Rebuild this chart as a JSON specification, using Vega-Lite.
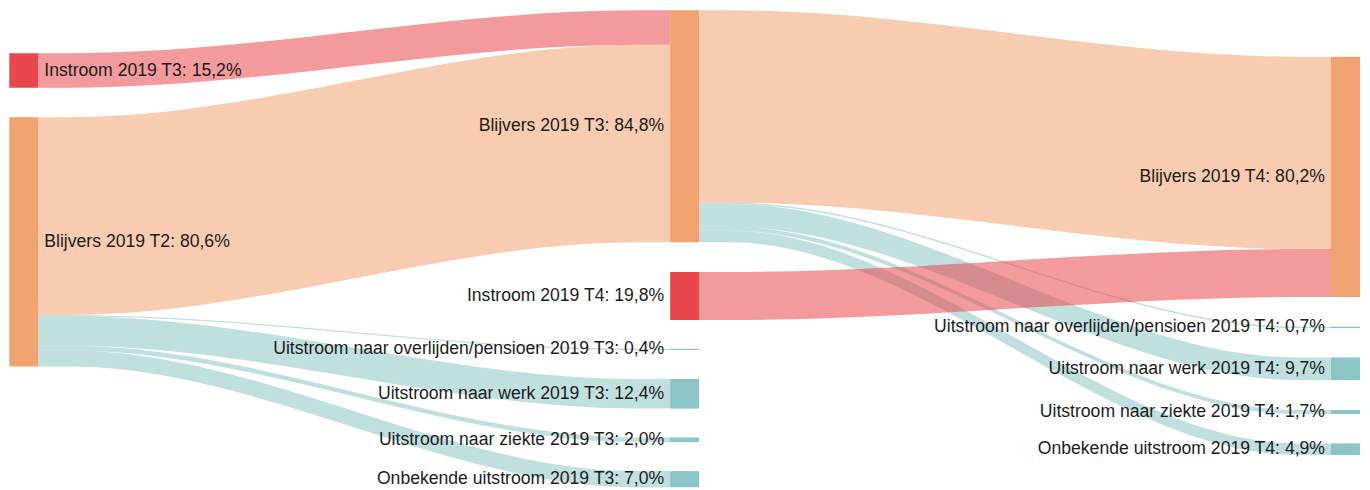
{
  "$schema": "https://vega.github.io/schema/vega-lite/v6.json",
  "width": 1370,
  "height": 490,
  "autosize": {"type": "fit", "contains": "padding"},
  "padding": 0,
  "background": "white",
  "config": {"view": {"stroke": null}},
  "datasets": {
    "nodes": [
      {"label": "Instroom 2019 T3: 15,2%", "stage": 0, "type": "instroom", "top": 53.3, "bot": 87.7},
      {"label": "Blijvers 2019 T2: 80,6%", "stage": 0, "type": "blijvers", "top": 117.3, "bot": 366.5},
      {"label": "Blijvers 2019 T3: 84,8%", "stage": 1, "type": "blijvers", "top": 10.3, "bot": 242.3},
      {"label": "Instroom 2019 T4: 19,8%", "stage": 1, "type": "instroom", "top": 272, "bot": 320},
      {"label": "Uitstroom naar overlijden/pensioen 2019 T3: 0,4%", "stage": 1, "type": "uitstroom", "top": 348.8, "bot": 350},
      {"label": "Uitstroom naar werk 2019 T3: 12,4%", "stage": 1, "type": "uitstroom", "top": 379, "bot": 408.6},
      {"label": "Uitstroom naar ziekte 2019 T3: 2,0%", "stage": 1, "type": "uitstroom", "top": 437.4, "bot": 442},
      {"label": "Onbekende uitstroom 2019 T3: 7,0%", "stage": 1, "type": "uitstroom", "top": 471.1, "bot": 487.3},
      {"label": "Blijvers 2019 T4: 80,2%", "stage": 2, "type": "blijvers", "top": 56.7, "bot": 297},
      {"label": "Uitstroom naar overlijden/pensioen 2019 T4: 0,7%", "stage": 2, "type": "uitstroom", "top": 326.6, "bot": 328.1},
      {"label": "Uitstroom naar werk 2019 T4: 9,7%", "stage": 2, "type": "uitstroom", "top": 357.4, "bot": 380.1},
      {"label": "Uitstroom naar ziekte 2019 T4: 1,7%", "stage": 2, "type": "uitstroom", "top": 410, "bot": 414},
      {"label": "Onbekende uitstroom 2019 T4: 4,9%", "stage": 2, "type": "uitstroom", "top": 443.4, "bot": 455.1}
    ],
    "links": [
      {"link": "L01", "type": "instroom", "x": 0.0439, "top": 53.3, "bot": 87.7},
      {"link": "L01", "type": "instroom", "x": 0.09, "top": 53.3, "bot": 87.7},
      {"link": "L01", "type": "instroom", "x": 0.95, "top": 10.3, "bot": 44.7},
      {"link": "L01", "type": "instroom", "x": 1, "top": 10.3, "bot": 44.7},
      {"link": "L02", "type": "blijvers", "x": 0.0439, "top": 117.3, "bot": 315},
      {"link": "L02", "type": "blijvers", "x": 0.09, "top": 117.3, "bot": 315},
      {"link": "L02", "type": "blijvers", "x": 0.95, "top": 44.7, "bot": 242.3},
      {"link": "L02", "type": "blijvers", "x": 1, "top": 44.7, "bot": 242.3},
      {"link": "L03", "type": "uitstroom", "x": 0.0439, "top": 315, "bot": 316.2},
      {"link": "L03", "type": "uitstroom", "x": 0.09, "top": 315, "bot": 316.2},
      {"link": "L03", "type": "uitstroom", "x": 0.95, "top": 348.8, "bot": 350},
      {"link": "L03", "type": "uitstroom", "x": 1, "top": 348.8, "bot": 350},
      {"link": "L04", "type": "uitstroom", "x": 0.0439, "top": 316.2, "bot": 345.8},
      {"link": "L04", "type": "uitstroom", "x": 0.09, "top": 316.2, "bot": 345.8},
      {"link": "L04", "type": "uitstroom", "x": 0.95, "top": 379, "bot": 408.6},
      {"link": "L04", "type": "uitstroom", "x": 1, "top": 379, "bot": 408.6},
      {"link": "L05", "type": "uitstroom", "x": 0.0439, "top": 345.8, "bot": 350.4},
      {"link": "L05", "type": "uitstroom", "x": 0.09, "top": 345.8, "bot": 350.4},
      {"link": "L05", "type": "uitstroom", "x": 0.95, "top": 437.4, "bot": 442},
      {"link": "L05", "type": "uitstroom", "x": 1, "top": 437.4, "bot": 442},
      {"link": "L06", "type": "uitstroom", "x": 0.0439, "top": 350.4, "bot": 366.5},
      {"link": "L06", "type": "uitstroom", "x": 0.09, "top": 350.4, "bot": 366.5},
      {"link": "L06", "type": "uitstroom", "x": 0.95, "top": 471.1, "bot": 487.3},
      {"link": "L06", "type": "uitstroom", "x": 1, "top": 471.1, "bot": 487.3},
      {"link": "L07", "type": "blijvers", "x": 1.0439, "top": 10.3, "bot": 202.6},
      {"link": "L07", "type": "blijvers", "x": 1.09, "top": 10.3, "bot": 202.6},
      {"link": "L07", "type": "blijvers", "x": 1.95, "top": 56.7, "bot": 249},
      {"link": "L07", "type": "blijvers", "x": 2, "top": 56.7, "bot": 249},
      {"link": "L08", "type": "uitstroom", "x": 1.0439, "top": 202.6, "bot": 204.1},
      {"link": "L08", "type": "uitstroom", "x": 1.09, "top": 202.6, "bot": 204.1},
      {"link": "L08", "type": "uitstroom", "x": 1.95, "top": 326.6, "bot": 328.1},
      {"link": "L08", "type": "uitstroom", "x": 2, "top": 326.6, "bot": 328.1},
      {"link": "L09", "type": "uitstroom", "x": 1.0439, "top": 204.1, "bot": 226.8},
      {"link": "L09", "type": "uitstroom", "x": 1.09, "top": 204.1, "bot": 226.8},
      {"link": "L09", "type": "uitstroom", "x": 1.95, "top": 357.4, "bot": 380.1},
      {"link": "L09", "type": "uitstroom", "x": 2, "top": 357.4, "bot": 380.1},
      {"link": "L10", "type": "uitstroom", "x": 1.0439, "top": 226.8, "bot": 230.8},
      {"link": "L10", "type": "uitstroom", "x": 1.09, "top": 226.8, "bot": 230.8},
      {"link": "L10", "type": "uitstroom", "x": 1.95, "top": 410, "bot": 414},
      {"link": "L10", "type": "uitstroom", "x": 2, "top": 410, "bot": 414},
      {"link": "L11", "type": "uitstroom", "x": 1.0439, "top": 230.8, "bot": 242.3},
      {"link": "L11", "type": "uitstroom", "x": 1.09, "top": 230.8, "bot": 242.3},
      {"link": "L11", "type": "uitstroom", "x": 1.95, "top": 443.4, "bot": 455.1},
      {"link": "L11", "type": "uitstroom", "x": 2, "top": 443.4, "bot": 455.1},
      {"link": "L12", "type": "instroom", "x": 1.0439, "top": 272, "bot": 320},
      {"link": "L12", "type": "instroom", "x": 1.09, "top": 272, "bot": 320},
      {"link": "L12", "type": "instroom", "x": 1.95, "top": 249, "bot": 297},
      {"link": "L12", "type": "instroom", "x": 2, "top": 249, "bot": 297}
    ]
  },
  "layer": [
    {
      "data": {"name": "links"},
      "mark": {"type": "area", "interpolate": "monotone", "fillOpacity": 0.55, "orient": "vertical"},
      "encoding": {
        "x": {"field": "x", "type": "quantitative", "scale": {"domain": [-0.01407, 2.05902], "nice": false, "zero": false}, "axis": null},
        "y": {"field": "top", "type": "quantitative", "stack": null, "scale": {"domain": [0, 490], "reverse": true, "nice": false, "zero": false}, "axis": null},
        "y2": {"field": "bot"},
        "detail": {"field": "link"},
        "color": {"field": "type", "type": "nominal", "scale": {"domain": ["instroom", "blijvers", "uitstroom"], "range": ["#e8474b", "#f0a26f", "#8cc5c5"]}, "legend": null}
      }
    },
    {
      "data": {"name": "nodes"},
      "mark": {"type": "rect", "x2Offset": 29},
      "encoding": {
        "x": {"field": "stage", "type": "quantitative"},
        "x2": {"field": "stage"},
        "y": {"field": "top", "type": "quantitative"},
        "y2": {"field": "bot"},
        "color": {"field": "type", "type": "nominal", "legend": null}
      }
    },
    {
      "data": {"name": "nodes"},
      "transform": [
        {"filter": "datum.stage == 0"},
        {"fold": ["top", "bot"]},
        {"aggregate": [{"op": "mean", "field": "value", "as": "mid"}], "groupby": ["label", "stage"]}
      ],
      "mark": {"type": "text", "align": "left", "baseline": "middle", "dx": 35, "font": "Liberation Sans", "fontSize": 17.6, "color": "#1c1c1c"},
      "encoding": {
        "x": {"field": "stage", "type": "quantitative"},
        "y": {"field": "mid", "type": "quantitative"},
        "text": {"field": "label"}
      }
    },
    {
      "data": {"name": "nodes"},
      "transform": [
        {"filter": "datum.stage > 0"},
        {"fold": ["top", "bot"]},
        {"aggregate": [{"op": "mean", "field": "value", "as": "mid"}], "groupby": ["label", "stage"]}
      ],
      "mark": {"type": "text", "align": "right", "baseline": "middle", "dx": -6, "font": "Liberation Sans", "fontSize": 17.6, "color": "#1c1c1c"},
      "encoding": {
        "x": {"field": "stage", "type": "quantitative"},
        "y": {"field": "mid", "type": "quantitative"},
        "text": {"field": "label"}
      }
    }
  ]
}
